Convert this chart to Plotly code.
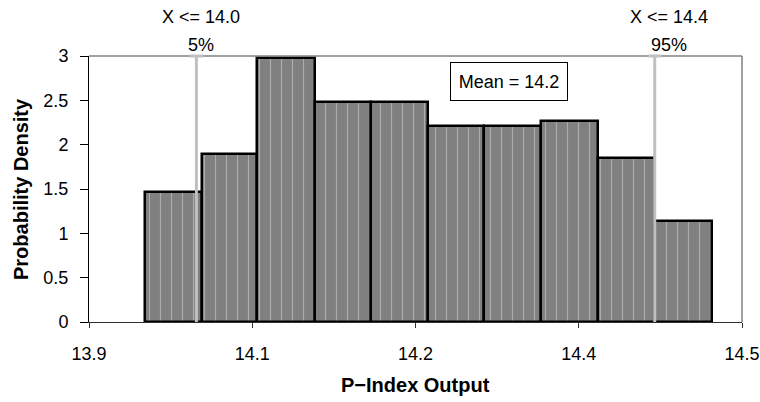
import plotly.graph_objects as go

# ---- data ----
bin_edges = [13.951, 14.0036, 14.0548, 14.1078, 14.1594, 14.2111,
             14.2627, 14.3153, 14.3674, 14.4198, 14.4728]
densities = [1.47, 1.89, 2.98, 2.485, 2.485, 2.215, 2.215, 2.27, 1.847, 1.141]

x_tickvals = [13.9, 14.05, 14.2, 14.35, 14.5]
x_ticktext = ["13.9", "14.1", "14.2", "14.4", "14.5"]
y_tickvals = [0, 0.5, 1, 1.5, 2, 2.5, 3]
y_ticktext = ["0", "0.5", "1", "1.5", "2", "2.5", "3"]

pct_values = [13.9987, 14.4198]
pct_labels = ["X <= 14.0", "X <= 14.4"]
pct_levels = ["5%", "95%"]
mean_label = "Mean = 14.2"
mean_pos = (14.2857, 2.707)

centers = [(a + b) / 2 for a, b in zip(bin_edges[:-1], bin_edges[1:])]
widths = [b - a for a, b in zip(bin_edges[:-1], bin_edges[1:])]

FONT = "Liberation Sans, Arial, sans-serif"
label_shift = [5, 14]

fig = go.Figure()
fig.add_trace(go.Bar(
    x=centers, y=densities, width=widths,
    marker=dict(
        color="#808080",
        line=dict(color="black", width=2.5),
        pattern=dict(shape="|", fgcolor="#d8d8d8", bgcolor="#808080",
                     size=11, solidity=0.1),
    ),
    hoverinfo="skip",
))

shapes = []
shapes.append(dict(type="line", xref="paper", yref="paper", x0=0, x1=1, y0=1, y1=1,
                   line=dict(color="#808080", width=1.5), layer="above"))
shapes.append(dict(type="line", xref="paper", yref="paper", x0=1, x1=1, y0=0, y1=1,
                   line=dict(color="#808080", width=1.5), layer="above"))
for v in pct_values:
    shapes.append(dict(type="line", xref="x", yref="paper", x0=v, x1=v, y0=0, y1=1,
                       line=dict(color="#c0c0c0", width=3), layer="above"))
    shapes.append(dict(type="line", xref="x", yref="paper", x0=v - 0.0065, x1=v + 0.0065,
                       y0=1, y1=1, line=dict(color="#c0c0c0", width=3), layer="above"))

annotations = []
for v, lab, lev, sh in zip(pct_values, pct_labels, pct_levels, label_shift):
    annotations.append(dict(x=v, y=1, xref="x", yref="paper", text=lab, showarrow=False,
                            xshift=sh, yshift=39, yanchor="middle",
                            font=dict(size=18, color="black", family=FONT)))
    annotations.append(dict(x=v, y=1, xref="x", yref="paper", text=lev, showarrow=False,
                            xshift=sh, yshift=11, yanchor="middle",
                            font=dict(size=18, color="black", family=FONT)))
annotations.append(dict(x=mean_pos[0], y=mean_pos[1], xref="x", yref="y", text=mean_label,
                        showarrow=False, bordercolor="black", borderwidth=1, borderpad=1,
                        bgcolor="white", width=114, height=35, align="center",
                        font=dict(size=18, color="black", family=FONT)))
annotations.append(dict(x=0.5, y=0, xref="paper", yref="paper", text="<b>P−Index Output</b>",
                        showarrow=False, yshift=-63, yanchor="middle",
                        font=dict(size=20, color="black", family=FONT)))
annotations.append(dict(x=0, y=0.5, xref="paper", yref="paper", text="<b>Probability Density</b>",
                        showarrow=False, xshift=-68, xanchor="center", textangle=-90,
                        font=dict(size=20, color="black", family=FONT)))

fig.update_layout(
    width=760, height=402,
    margin=dict(l=89, r=18, t=56, b=80),
    paper_bgcolor="white", plot_bgcolor="white",
    showlegend=False,
    bargap=0,
    shapes=shapes, annotations=annotations,
    font=dict(family=FONT, size=18, color="black"),
    xaxis=dict(range=[13.9, 14.5], tickvals=x_tickvals, ticktext=x_ticktext, automargin=False,
               showgrid=False, zeroline=False, showline=True, linecolor="#303030", linewidth=1,
               ticks="outside", ticklen=5, tickcolor="#303030", ticklabelstandoff=10,
               tickfont=dict(size=18, family=FONT, color="black")),
    yaxis=dict(range=[0, 3], tickvals=y_tickvals, ticktext=y_ticktext, automargin=False,
               showgrid=False, zeroline=False, showline=True, linecolor="black", linewidth=1,
               ticks="outside", ticklen=8, tickcolor="black", ticklabelstandoff=8,
               tickfont=dict(size=18, family=FONT, color="black")),
)

# remove the default page margin so the 760x402 figure fills the window exactly
fig.write_html("out.html", config={"displayModeBar": False},
               post_script="document.body.style.margin='0';document.body.style.overflow='hidden';")
